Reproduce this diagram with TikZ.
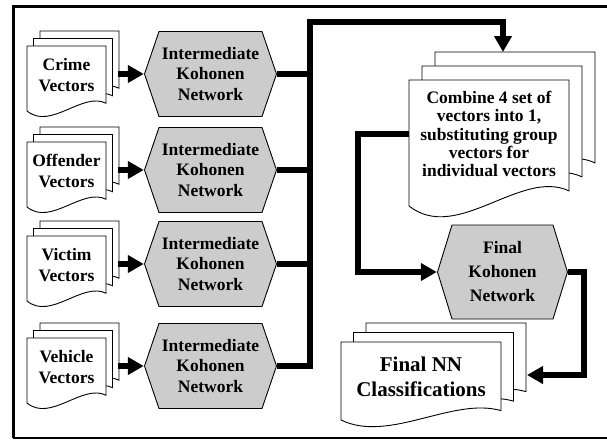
\documentclass[tikz,border=0pt]{standalone}
\usepackage{fontspec}
\setmainfont{Liberation Serif}
\usetikzlibrary{arrows.meta}

\definecolor{hexgray}{gray}{0.8}

\tikzset{
    page/.style={draw, fill=white, line width=0.9pt},
    doctext/.style={align=center, inner sep=0pt, font=\fontsize{17.5}{21}\selectfont\bfseries},
    kohonen/.style={inner sep=0pt, minimum width=133pt, minimum height=86pt, align=center,
        font=\fontsize{17.5}{20.5}\selectfont\bfseries,
        path picture={
            \draw[line width=0.9pt, fill=hexgray]
                ([xshift=0.5pt]path picture bounding box.west) --
                ([xshift=15pt,yshift=-0.5pt]path picture bounding box.north west) --
                ([xshift=-15pt,yshift=-0.5pt]path picture bounding box.north east) --
                ([xshift=-0.5pt]path picture bounding box.east) --
                ([xshift=-15pt,yshift=0.5pt]path picture bounding box.south east) --
                ([xshift=15pt,yshift=0.5pt]path picture bounding box.south west) -- cycle;
        }},
    link/.style={line width=5.5pt},
    flow/.style={line width=5.5pt, -{Triangle[length=16pt,width=17pt]}},
}

% one sheet of a document stack: top left x, y, width, height
\newcommand{\docpage}[4]{%
    \draw[page] (#1,#2) -- ({#1+#3},#2) -- ({#1+#3},{#2+0.88*#4})
        .. controls ({#1+0.7*#3},{#2+0.7*#4}) and ({#1+0.3*#3},{#2+1.3*#4}) .. (#1,{#2+#4}) -- cycle;}

\begin{document}
\begin{tikzpicture}[x=1pt, y=-1pt]
    \useasboundingbox (0,0) rectangle (607,439);

    % Frame
    \draw[line width=3pt] (607,6) -- (13,6) -- (13,438);
    \draw[line width=2pt] (13,438) -- (607,438);

    \coordinate (bus) at (310,22);

    % Input vectors and intermediate networks
    \foreach \n/\y/\t in {crime/74/Crime, offender/170/Offender, victim/264/Victim, vehicle/366/Vehicle} {
        \foreach \k in {2,1,0} {\docpage{27+6.5*\k}{\y-28-7.5*\k}{79}{65}}
        \node[doctext] (\n vec) at (66.5,\y+1) {\t\\Vectors};
        \node[kohonen] (\n kn) at (210.5,\y) {Intermediate\\Kohonen\\Network};
        \coordinate (\n out) at (118,\y);
        \draw[flow] (\n out) -- (\n kn.west);
        \draw[link] (\n kn.east) -- (\n kn.east -| bus);
    }

    % Combine
    \foreach \k in {2,1,0} {\docpage{409+13*\k}{80-14*\k}{160}{126}}
    \node[doctext, minimum width=160pt, font=\fontsize{17.5}{18.3}\selectfont\bfseries] (combine) at (489,134)
        {Combine 4 set of\\vectors into 1,\\substituting group\\vectors for\\individual vectors};
    \coordinate (combinein) at (503,52);
    \draw[flow] (vehiclekn.east) -| (bus) -| (combinein);

    % Final network
    \node[kohonen, minimum width=131pt, minimum height=95pt,
        font=\fontsize{17.5}{24}\selectfont\bfseries] (finalkn) at (502.5,272) {Final\\Kohonen\\Network};
    \draw[flow] (combine.west) -- ++(-51,0) |- (finalkn.west);

    % Output
    \foreach \k in {2,1,0} {\docpage{341+12.5*\k}{342-9.5*\k}{160}{78}}
    \node[doctext, font=\fontsize{21}{25}\selectfont\bfseries] (finalnn) at (421,377) {Final NN\\Classifications};
    \coordinate (nnin) at (527,375);
    \draw[flow] (finalkn.east) -- ++(16,0) |- (nnin);
\end{tikzpicture}
\end{document}
